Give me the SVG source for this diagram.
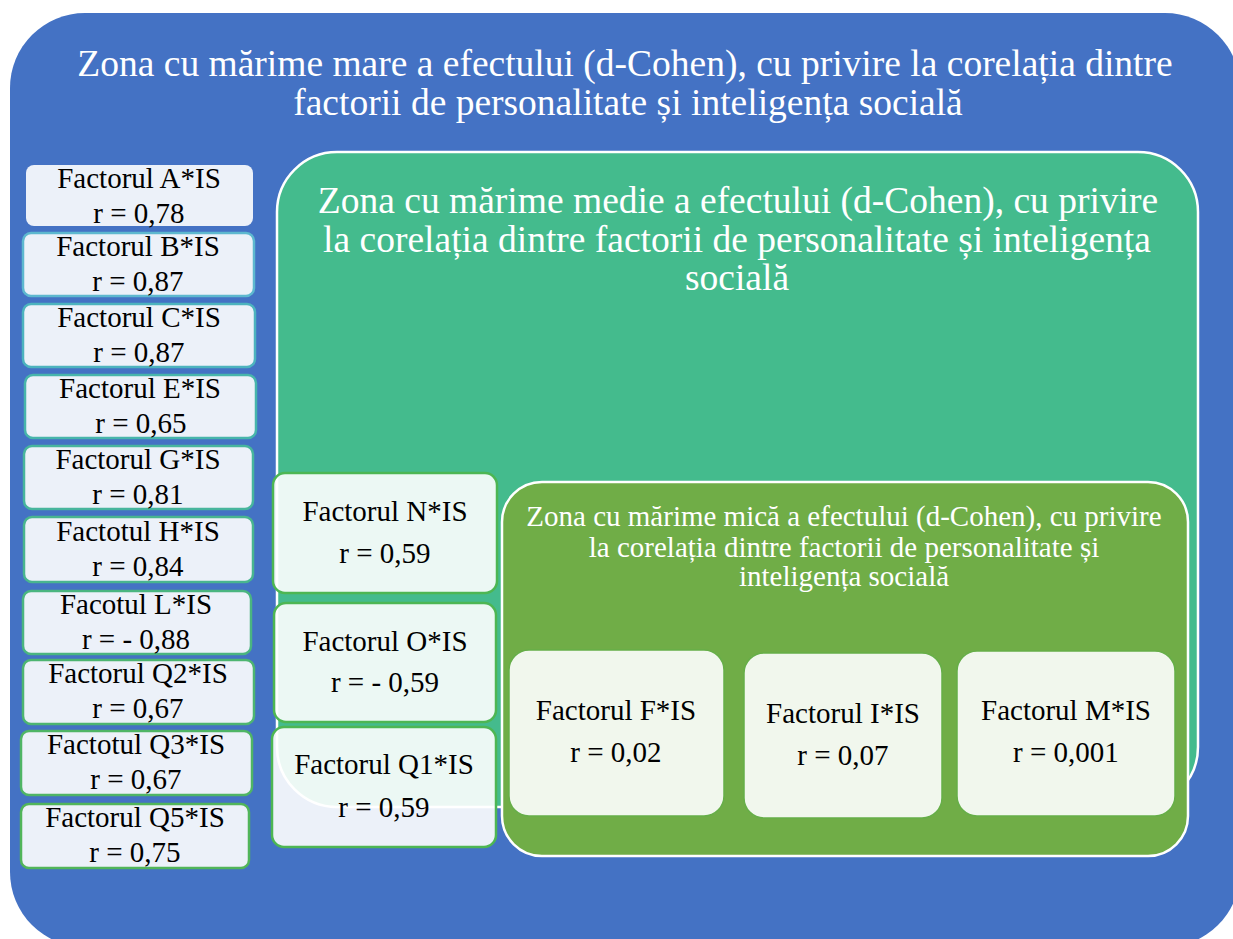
<svg xmlns="http://www.w3.org/2000/svg" width="1233" height="939" viewBox="0 0 1233 939">
<style>
.t37{font-size:37.5px;fill:#fff}
.t29w{font-size:29px;fill:#fff}
.t29{font-size:29px;fill:#000}
.lb{fill:#fff;fill-opacity:0.9;stroke-width:2.5}
.mb{fill:#fff;fill-opacity:0.9;stroke:#4DB653;stroke-width:2.5}
.sb{fill:#fff;fill-opacity:0.9;stroke:#66AE48;stroke-width:1.5}
</style>
<rect width="1233" height="939" fill="#fff"/>
<g font-family="Liberation Serif, DejaVu Serif, serif" text-anchor="middle">
<g id="zone-large">
<rect x="10" y="13" width="1230" height="934" rx="75" fill="#4472C4"/>
<text class="t37"><tspan x="625" y="76">Zona cu mărime mare a efectului (d-Cohen), cu privire la corelația dintre</tspan><tspan x="628" y="115">factorii de personalitate și inteligența socială</tspan></text>
</g>
<g id="zone-medium">
<rect x="277" y="152" width="921" height="655" rx="60" fill="#44BB8D" stroke="#fff" stroke-width="2.5"/>
<text class="t37"><tspan x="738" y="213">Zona cu mărime medie a efectului (d-Cohen), cu privire</tspan><tspan x="737" y="252">la corelația dintre factorii de personalitate și inteligența</tspan><tspan x="737" y="290">socială</tspan></text>
</g>
<g id="zone-small">
<rect x="502" y="482" width="686" height="374" rx="40" fill="#70AD47" stroke="#fff" stroke-width="2.5"/>
<text class="t29w"><tspan x="844" y="526">Zona cu mărime mică a efectului (d-Cohen), cu privire</tspan><tspan x="844" y="557">la corelația dintre factorii de personalitate și</tspan><tspan x="844" y="586">inteligența socială</tspan></text>
</g>
<g id="node-A"><rect class="lb" x="26" y="165" width="227" height="61" rx="8" stroke="none"/><text class="t29" x="139" y="188">Factorul A*IS</text><text class="t29" x="139" y="223">r = 0,78</text></g>
<g id="node-B"><rect class="lb" x="23" y="233" width="231" height="63" rx="8" stroke="#5DB8CF"/><text class="t29" x="138" y="256">Factorul B*IS</text><text class="t29" x="138" y="291">r = 0,87</text></g>
<g id="node-C"><rect class="lb" x="23" y="304" width="232" height="63" rx="8" stroke="#4CB3BE"/><text class="t29" x="139" y="327">Factorul C*IS</text><text class="t29" x="139" y="362">r = 0,87</text></g>
<g id="node-E"><rect class="lb" x="25" y="375" width="231" height="63" rx="8" stroke="#47B5AB"/><text class="t29" x="140" y="398">Factorul E*IS</text><text class="t29" x="141" y="433">r = 0,65</text></g>
<g id="node-G"><rect class="lb" x="24" y="446" width="229" height="63" rx="8" stroke="#47B59D"/><text class="t29" x="138" y="469">Factorul G*IS</text><text class="t29" x="138" y="504">r = 0,81</text></g>
<g id="node-H"><rect class="lb" x="24" y="517" width="229" height="65" rx="8" stroke="#48B58F"/><text class="t29" x="138" y="541">Factotul H*IS</text><text class="t29" x="138" y="576">r = 0,84</text></g>
<g id="node-L"><rect class="lb" x="23" y="591" width="228" height="63" rx="8" stroke="#4AB580"/><text class="t29" x="136" y="614">Facotul L*IS</text><text class="t29" x="136" y="649">r = - 0,88</text></g>
<g id="node-Q2"><rect class="lb" x="23" y="660" width="231" height="64" rx="8" stroke="#4DB571"/><text class="t29" x="138" y="683">Factorul Q2*IS</text><text class="t29" x="138" y="718">r = 0,67</text></g>
<g id="node-Q3"><rect class="lb" x="21" y="731" width="231" height="64" rx="8" stroke="#4FB565"/><text class="t29" x="136" y="754">Factotul Q3*IS</text><text class="t29" x="136" y="789">r = 0,67</text></g>
<g id="node-Q5"><rect class="lb" x="21" y="804" width="228" height="64" rx="8" stroke="#51B55A"/><text class="t29" x="135" y="827">Factorul Q5*IS</text><text class="t29" x="135" y="862">r = 0,75</text></g>
<g id="node-N"><rect class="mb" x="273" y="473" width="224" height="120" rx="12"/><text class="t29" x="385" y="521">Factorul N*IS</text><text class="t29" x="385" y="563">r = 0,59</text></g>
<g id="node-O"><rect class="mb" x="274" y="603" width="222" height="119" rx="12"/><text class="t29" x="385" y="651">Factorul O*IS</text><text class="t29" x="385" y="692">r = - 0,59</text></g>
<g id="node-Q1"><rect class="mb" x="272" y="727" width="224" height="120" rx="12"/><text class="t29" x="384" y="774">Factorul Q1*IS</text><text class="t29" x="384" y="817">r = 0,59</text></g>
<g id="node-F"><rect class="sb" x="509" y="650" width="215" height="166" rx="20"/><text class="t29" x="616" y="720">Factorul F*IS</text><text class="t29" x="616" y="762">r = 0,02</text></g>
<g id="node-I"><rect class="sb" x="744" y="653" width="198" height="165" rx="20"/><text class="t29" x="843" y="723">Factorul I*IS</text><text class="t29" x="843" y="765">r = 0,07</text></g>
<g id="node-M"><rect class="sb" x="957" y="651" width="218" height="165" rx="20"/><text class="t29" x="1066" y="720">Factorul M*IS</text><text class="t29" x="1066" y="762">r = 0,001</text></g>
</g>
<g id="connectors"/>
</svg>
